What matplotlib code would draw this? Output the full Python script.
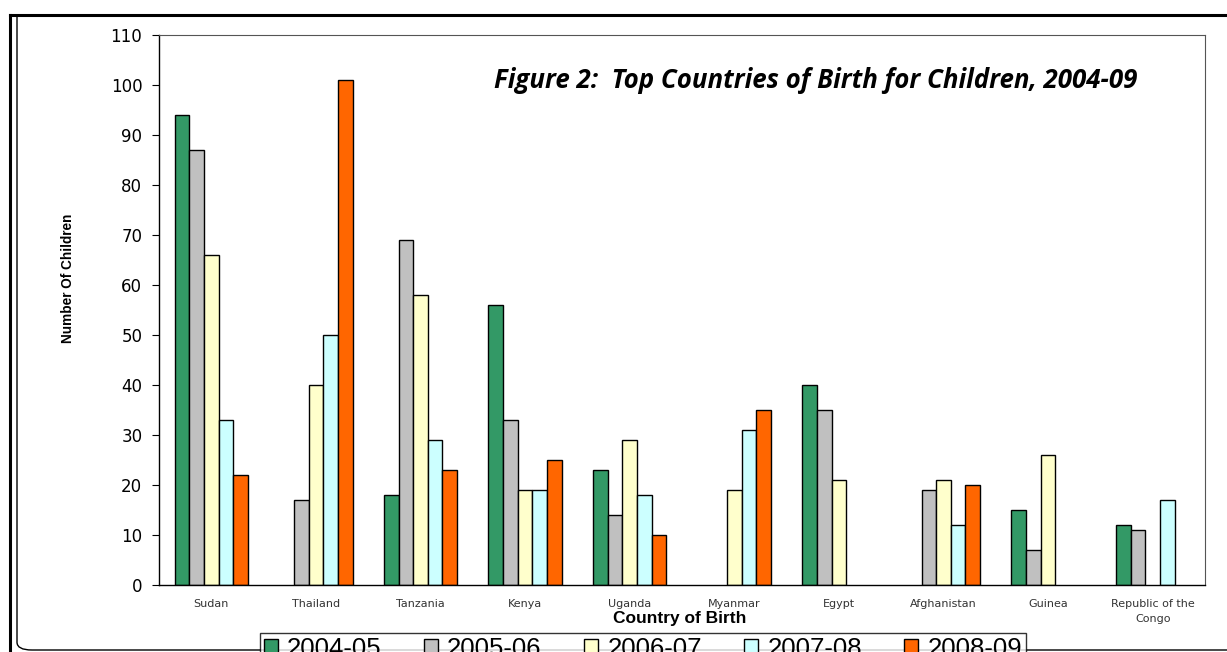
import numpy as np
import matplotlib
matplotlib.use("Agg")
import matplotlib.pyplot as plt
from matplotlib.patches import FancyBboxPatch
from matplotlib.lines import Line2D
from matplotlib.transforms import Bbox, TransformedBbox

# data
countries = ["Sudan", "Thailand", "Tanzania", "Kenya", "Uganda", "Myanmar",
             "Egypt", "Afghanistan", "Guinea", "Republic of the\nCongo"]
years = ["2004-05", "2005-06", "2006-07", "2007-08", "2008-09"]
y2004 = [94, 0, 18, 56, 23, 0, 40, 0, 15, 12]
y2005 = [87, 17, 69, 33, 14, 0, 35, 19, 7, 11]
y2006 = [66, 40, 58, 19, 29, 19, 21, 21, 26, 0]
y2007 = [33, 50, 29, 19, 18, 31, 0, 12, 0, 17]
y2008 = [22, 101, 23, 25, 10, 35, 0, 20, 0, 0]
series = [y2004, y2005, y2006, y2007, y2008]
colors = ["#339966", "#C0C0C0", "#FFFFCC", "#CCFFFF", "#FF6600"]

plt.rcParams['font.family'] = ['DejaVu Sans']

W, H = 1227, 652
fig = plt.figure(figsize=(W / 100, H / 100), dpi=100)
ax = fig.add_axes([159 / W, 1 - 585 / H, 1046 / W, 550 / H])

x = np.arange(len(countries))
w = 0.14
for i, (vals, c) in enumerate(zip(series, colors)):
    v = np.array(vals, dtype=float)
    v[v == 0] = np.nan  # no bar drawn for empty years
    ax.bar(x + (i - 2) * w, v, width=w, color=c, edgecolor="black",
           linewidth=1.0, label=years[i])

ax.set_xlim(-0.5, len(countries) - 0.5)
ax.set_ylim(0, 110)
ax.set_yticks(np.arange(0, 111, 10))
ax.tick_params(axis="y", labelsize=12, length=5, direction="out", pad=7)
ax.set_xticks(x)
ax.set_xticklabels(countries, fontsize=8, color="#333333", linespacing=1.7)
ax.tick_params(axis="x", length=0, pad=10)
for s in ["top", "right"]:
    ax.spines[s].set_color("#555555")
    ax.spines[s].set_linewidth(0.8)
for s in ["left", "bottom"]:
    ax.spines[s].set_linewidth(1.0)

fig.text(68 / W, 1 - 278 / H, "Number Of Children", rotation=90,
         ha="center", va="center", fontsize=9.8, fontweight="bold",
         family=["Liberation Sans", "DejaVu Sans"])
fig.text(680 / W, 1 - 618 / H, "Country of Birth", ha="center", va="center",
         fontsize=12.5, fontweight="bold",
         family=["Liberation Sans", "DejaVu Sans"])

fig.text(0.403, 0.877, "Figure 2:  Top Countries of Birth for Children, 2004-09",
         fontsize=18.6, fontweight="bold", style="italic",
         family=["Open Sans", "DejaVu Sans"], ha="left", va="center")

leg = fig.legend(loc="upper center", bbox_to_anchor=(643 / W, 1 - 633 / H),
                 ncol=5, prop={"family": "Liberation Sans", "size": 18.5},
                 frameon=True, fancybox=False, edgecolor="black",
                 handlelength=0.55, handleheight=0.55, handletextpad=0.35,
                 columnspacing=1.65, borderpad=0.15, borderaxespad=0)
leg.get_frame().set_linewidth(1.0)

# page border lines
fig.add_artist(Line2D([10 / W, 10 / W], [0, 1 - 15 / H],
                      transform=fig.transFigure, color="black", lw=2.2))
fig.add_artist(Line2D([10 / W, 1], [1 - 15 / H, 1 - 15 / H],
                      transform=fig.transFigure, color="black", lw=2.2))
box = FancyBboxPatch((17 / W, 2 / H), 1.2, 1.2,
                     boxstyle="round,pad=0,rounding_size=0.012",
                     transform=fig.transFigure, fill=False,
                     edgecolor="black", lw=1.0)
box.set_clip_box(TransformedBbox(Bbox([[0, 0], [1, 1 - 15 / H]]),
                                 fig.transFigure))
fig.add_artist(box)

fig.savefig("out.png", dpi=100)
